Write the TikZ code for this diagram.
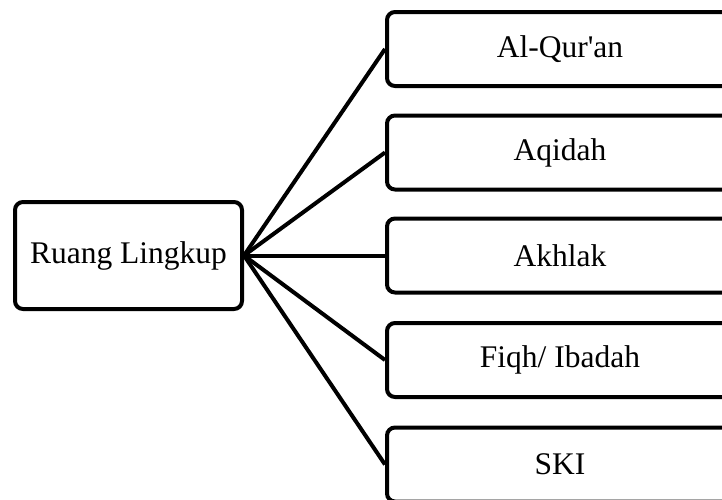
\documentclass[tikz,border=0pt]{standalone}
\usepackage{fontspec}
\setmainfont{Liberation Serif}[Ligatures=TeXOff]
\begin{document}
\begin{tikzpicture}[x=1pt,y=-1pt,
  box/.style={draw=black, line width=4pt, rounded corners=8pt, fill=white,
    font=\fontsize{31.5}{36}\selectfont, inner sep=0pt},
  leaf/.style={box, minimum width=346pt, minimum height=74pt},
  link/.style={draw=black, line width=4pt}]
\useasboundingbox (0,0) rectangle (722,499);
\clip (0,0) rectangle (722,499);
\node[box, minimum width=227pt, minimum height=107pt] (root) at (128.5,255.5) {Ruang Lingkup};
\node[leaf] (a) at (560,49) {Al-Qur'an};
\node[leaf] (b) at (560,152.5) {Aqidah};
\node[leaf] (c) at (560,255.5) {Akhlak};
\node[leaf] (d) at (560,360) {Fiqh/ Ibadah};
\node[leaf] (e) at (560,464.5) {SKI};
\foreach \t in {a,b,c,d,e}
  \draw[link] (root.east) -- (\t.west);
\end{tikzpicture}
\end{document}
